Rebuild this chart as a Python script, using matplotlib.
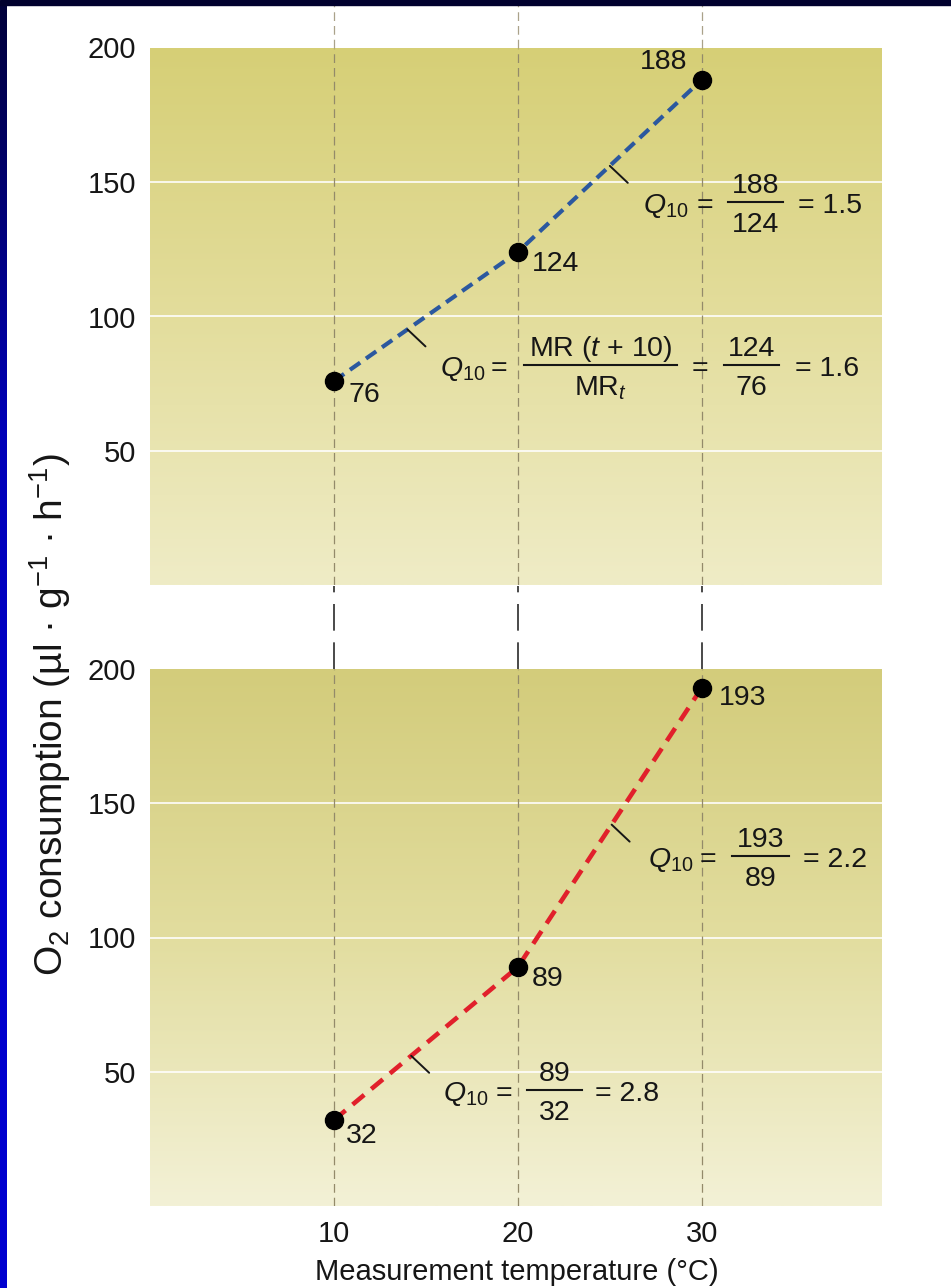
import numpy as np
import matplotlib
matplotlib.use('Agg')
import matplotlib.pyplot as plt
from matplotlib.colors import LinearSegmentedColormap
from matplotlib.lines import Line2D
from matplotlib.patches import Rectangle

plt.rcParams['font.family'] = ['Liberation Sans', 'DejaVu Sans']
plt.rcParams['mathtext.fontset'] = 'custom'
plt.rcParams['mathtext.rm'] = 'Liberation Sans'
plt.rcParams['mathtext.it'] = 'Liberation Sans:italic'
plt.rcParams['mathtext.bf'] = 'Liberation Sans:bold'
plt.rcParams['mathtext.sf'] = 'Liberation Sans'

# ---------------- data ----------------
temperatures = [10, 20, 30]
o2_upper = [76, 124, 188]          # blue series (upper panel)
o2_lower = [32, 89, 193]           # red series (lower panel)
y_ticks = [50, 100, 150, 200]
x_ticks = [10, 20, 30]
x_tick_labels = ['10', '20', '30']
y_label = 'O$_2$ consumption (µl · g$^{-1}$ · h$^{-1}$)'
x_label = 'Measurement temperature (°C)'

# ---------------- layout ----------------
W, H, DPI = 951, 1288, 100
fig = plt.figure(figsize=(W / DPI, H / DPI), dpi=DPI, facecolor='white')

def fx(px):
    return px / W

def fy(py):
    return 1 - py / H

X0, X1 = 150, 882
XLIM = (0, 39.8)
YLIM = (0, 200)
TXT = '#161616'
FS = 21
FS_EQ = 20.5

def make_axes(y_top, y_bot):
    return fig.add_axes([fx(X0), fy(y_bot), (X1 - X0) / W, (y_bot - y_top) / H])

def panel(ax, c_top, c_mid, c_bot):
    cmap = LinearSegmentedColormap.from_list('bg', [c_top, c_mid, c_bot])
    grad = np.linspace(0, 1, 256).reshape(-1, 1)
    ax.imshow(grad, extent=(XLIM[0], XLIM[1], YLIM[0], YLIM[1]), aspect='auto',
              cmap=cmap, origin='upper', zorder=0, interpolation='bilinear')
    ax.set_xlim(*XLIM)
    ax.set_ylim(*YLIM)
    for s in ax.spines.values():
        s.set_visible(False)
    for yv in y_ticks[:-1]:
        ax.axhline(yv, color='white', lw=1.3, alpha=0.9, zorder=1)
    for xv in x_ticks:
        ax.axvline(xv, color='#938a6a', lw=0.9, ls=(0, (7, 4)), zorder=1.5)
    ax.set_yticks(y_ticks)
    ax.set_yticklabels([str(v) for v in y_ticks])
    ax.tick_params(axis='y', length=0, pad=10, labelsize=FS, labelcolor=TXT)

ax_top = make_axes(47.5, 585.5)
ax_bot = make_axes(669, 1206)
panel(ax_top, '#d6cf76', '#e3dd9c', '#efecc6')
panel(ax_bot, '#d3cc7b', '#e2dd9f', '#f3f1d6')

ax_top.set_xticks([])
ax_bot.set_xticks(x_ticks)
ax_bot.set_xticklabels(x_tick_labels)
ax_bot.tick_params(axis='x', length=0, pad=10, labelsize=FS, labelcolor=TXT)

# connecting dashed guides in the gap and above the top panel
ax_gap = make_axes(585.5, 669)
ax_above = make_axes(5, 47.5)
for a, col, lw, ls in [(ax_gap, '#2a2a2a', 1.2, (0, (16, 7))),
                       (ax_above, '#aaa28a', 0.9, (0, (7, 4)))]:
    a.set_xlim(*XLIM)
    a.set_ylim(0, 1)
    a.axis('off')
    for xv in x_ticks:
        a.axvline(xv, color=col, lw=lw, ls=ls)

# ---------------- series ----------------
ax_top.plot(temperatures, o2_upper, color='#2b589f', lw=3.0, dashes=(3.0, 1.7),
            dash_capstyle='butt', zorder=3)
ax_bot.plot(temperatures, o2_lower, color='#e1202b', lw=3.3, dashes=(3.3, 2.0),
            dash_capstyle='butt', zorder=3)
for ax, vals in [(ax_top, o2_upper), (ax_bot, o2_lower)]:
    ax.plot(temperatures, vals, 'o', color='black', ms=13, zorder=4)

PT = 0.72  # px -> pt at 100 dpi

def label_point(ax, x, y, dx, dy, ha='left'):
    ax.annotate(str(y), xy=(x, y), xytext=(dx * PT, -dy * PT), textcoords='offset points',
                ha=ha, va='center', fontsize=FS_EQ, color=TXT, zorder=5)

label_point(ax_top, temperatures[0], o2_upper[0], 15, 14)
label_point(ax_top, temperatures[1], o2_upper[1], 14, 12)
label_point(ax_top, temperatures[2], o2_upper[2], -14, -18, ha='right')
label_point(ax_bot, temperatures[0], o2_lower[0], 12, 16)
label_point(ax_bot, temperatures[1], o2_lower[1], 14, 12)
label_point(ax_bot, temperatures[2], o2_lower[2], 17, 10)

# short leader ticks from the line to each Q10 equation
def leader(ax, xs, ys, i, t):
    x = xs[i] + t * (xs[i + 1] - xs[i])
    y = ys[i] + t * (ys[i + 1] - ys[i])
    ax.annotate('', xy=(x, y), xytext=(18 * PT, -17 * PT), textcoords='offset points',
                arrowprops=dict(arrowstyle='-', color=TXT, lw=1.4, shrinkA=0, shrinkB=0),
                zorder=5)

leader(ax_top, temperatures, o2_upper, 0, 0.40)
leader(ax_top, temperatures, o2_upper, 1, 0.50)
leader(ax_bot, temperatures, o2_lower, 0, 0.42)
leader(ax_bot, temperatures, o2_lower, 1, 0.51)

# ---------------- equations ----------------
def put(px, py, s, ha='left'):
    fig.text(fx(px), fy(py), s, ha=ha, va='baseline', fontsize=FS_EQ, color=TXT)

def frac(xl, xr, cy, num, den):
    fig.add_artist(Line2D([fx(xl), fx(xr)], [fy(cy), fy(cy)], transform=fig.transFigure,
                          color=TXT, lw=1.5))
    cx = (xl + xr) / 2
    put(cx, cy - 9, num, ha='center')
    put(cx, cy + 30, den, ha='center')

def q10(ratio_num, ratio_den):
    return f'= {ratio_num / ratio_den:.1f}'

# upper panel, 20 -> 30
cy = 202
put(643, cy + 11, r'$Q_{10}$')
put(705, cy + 11, '=', ha='center')
frac(728, 783, cy, str(o2_upper[2]), str(o2_upper[1]))
put(798, cy + 11, q10(o2_upper[2], o2_upper[1]))

# upper panel, 10 -> 20 (general formula)
cy = 365
put(440, cy + 11, r'$Q_{10}$')
put(499, cy + 11, '=', ha='center')
frac(524, 677, cy, r'MR ($t$ + 10)', r'MR$_t$')
put(700, cy + 11, '=', ha='center')
frac(724, 779, cy, str(o2_upper[1]), str(o2_upper[0]))
put(795, cy + 11, q10(o2_upper[1], o2_upper[0]))

# lower panel, 20 -> 30
cy = 856
put(648, cy + 11, r'$Q_{10}$')
put(708, cy + 11, '=', ha='center')
frac(732, 789, cy, str(o2_lower[2]), str(o2_lower[1]))
put(803, cy + 11, q10(o2_lower[2], o2_lower[1]))

# lower panel, 10 -> 20
cy = 1090
put(443, cy + 11, r'$Q_{10}$')
put(504, cy + 11, '=', ha='center')
frac(527, 582, cy, str(o2_lower[1]), str(o2_lower[0]))
put(595, cy + 11, q10(o2_lower[1], o2_lower[0]))

# ---------------- axis titles ----------------
fig.text(fx(50), fy(715), y_label, rotation=90, ha='center', va='center',
         fontsize=28, color=TXT)
fig.text(fx(517), fy(1272), x_label, ha='center', va='center', fontsize=FS, color=TXT)

# ---------------- slide frame ----------------
fig.add_artist(Rectangle((0, fy(5)), 1, 5 / H, transform=fig.transFigure,
                         color='#00002e', zorder=10))
ax_frame = fig.add_axes([0, 0, 7 / W, 1 - 5 / H])
frame_cmap = LinearSegmentedColormap.from_list('frame', ['#00003a', '#0000b8', '#0000cc', '#0000d0'])
ax_frame.imshow(np.linspace(0, 1, 256).reshape(-1, 1), aspect='auto', cmap=frame_cmap,
                origin='upper')
ax_frame.axis('off')

fig.savefig('out.png', dpi=DPI, facecolor='white')
